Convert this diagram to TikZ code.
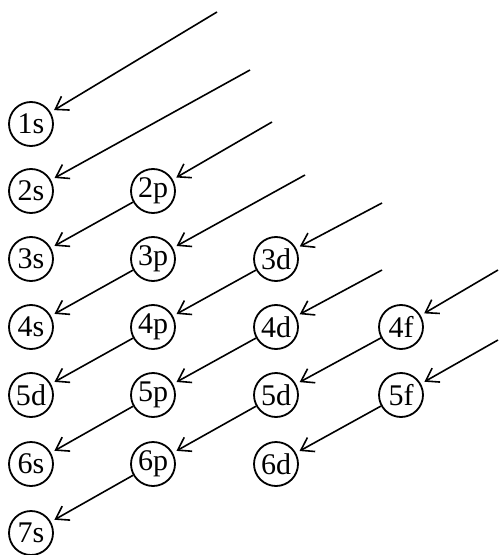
\documentclass[tikz,border=0pt]{standalone}
\usepackage{fontspec}
\setmainfont{Liberation Serif}
\usetikzlibrary{arrows.meta}

\begin{document}
\begin{tikzpicture}[
        x=0.5pt, y=-0.5pt,
        >={Straight Barb[length=6pt,width=8pt]},
        % Style for the orbital circles
        orb/.style={
            draw,
            circle,
            line width=0.9pt,
            minimum size=22pt,
            inner sep=0pt,
            font=\fontsize{15}{16}\selectfont
        },
        % Style for the filling order arrows
        fill_arrow/.style={
            ->,
            line width=0.8pt,
            shorten >=2pt
        }
    ]
    \useasboundingbox (0,0) rectangle (499,555);

    % 1. Draw Orbital Circles (row by row)
    \node[orb] (o1s) at (31,124) {1s};
    \node[orb] (o2s) at (31,191) {2s};
    \node[orb] (o2p) at (153,191) {2p};
    \node[orb] (o3s) at (31,259) {3s};
    \node[orb] (o3p) at (153,259) {3p};
    \node[orb] (o3d) at (276,259) {3d};
    \node[orb] (o4s) at (31,327) {4s};
    \node[orb] (o4p) at (153,327) {4p};
    \node[orb] (o4d) at (276,327) {4d};
    \node[orb] (o4f) at (401,327) {4f};
    \node[orb] (o5s) at (31,395) {5d};
    \node[orb] (o5p) at (153,395) {5p};
    \node[orb] (o5d) at (276,395) {5d};
    \node[orb] (o5f) at (401,395) {5f};
    \node[orb] (o6s) at (31,464) {6s};
    \node[orb] (o6p) at (153,464) {6p};
    \node[orb] (o6d) at (276,464) {6d};
    \node[orb] (o7s) at (31,533) {7s};

    % 2. Free Start Points of the Diagonals (upper right)
    \coordinate (d1) at (217,12);
    \coordinate (d2) at (250,70);
    \coordinate (d3) at (272,122);
    \coordinate (d4) at (305,175);
    \coordinate (d5) at (382,203);
    \coordinate (d6) at (382,270);
    \coordinate (d7) at (498,270);
    \coordinate (d8) at (498,340);

    % 3. Draw Filling Order Arrows (one diagonal at a time)
    \draw[fill_arrow] (d1) -- (o1s);
    \draw[fill_arrow] (d2) -- (o2s);
    \draw[fill_arrow] (d3) -- (o2p);
    \draw[fill_arrow] (o2p) -- (o3s);
    \draw[fill_arrow] (d4) -- (o3p);
    \draw[fill_arrow] (o3p) -- (o4s);
    \draw[fill_arrow] (d5) -- (o3d);
    \draw[fill_arrow] (o3d) -- (o4p);
    \draw[fill_arrow] (o4p) -- (o5s);
    \draw[fill_arrow] (d6) -- (o4d);
    \draw[fill_arrow] (o4d) -- (o5p);
    \draw[fill_arrow] (o5p) -- (o6s);
    \draw[fill_arrow] (d7) -- (o4f);
    \draw[fill_arrow] (o4f) -- (o5d);
    \draw[fill_arrow] (o5d) -- (o6p);
    \draw[fill_arrow] (o6p) -- (o7s);
    \draw[fill_arrow] (d8) -- (o5f);
    \draw[fill_arrow] (o5f) -- (o6d);

\end{tikzpicture}
\end{document}
